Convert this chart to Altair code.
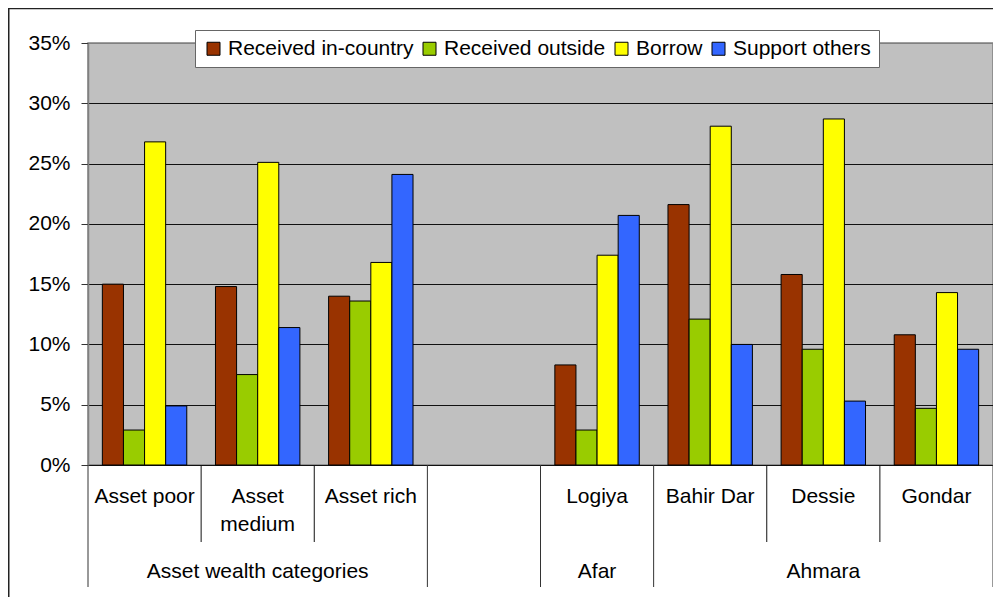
import altair as alt
import pandas as pd

categories = ["Asset poor", "Asset medium", "Asset rich", " ", "Logiya", "Bahir Dar", "Dessie", "Gondar"]
category_labels = ["Asset poor", "Asset\nmedium", "Asset rich", "", "Logiya", "Bahir Dar", "Dessie", "Gondar"]
series = ["Received in-country", "Received outside", "Borrow", "Support others"]
colors = ["#993300", "#99CC00", "#FFFF00", "#3366FF"]

received_in_country = [15.0, 14.8, 14.0, None, 8.3, 21.6, 15.8, 10.8]
received_outside = [2.9, 7.5, 13.6, None, 2.9, 12.1, 9.6, 4.7]
borrow = [26.8, 25.1, 16.8, None, 17.4, 28.1, 28.7, 14.3]
support_others = [4.9, 11.4, 24.1, None, 20.7, 10.0, 5.3, 9.6]

groups = ["Asset wealth categories", "Afar", "Ahmara"]
group_centre_category = ["Asset medium", "Logiya", "Dessie"]

long_separators = ["Asset poor", " ", "Logiya", "Bahir Dar"]
short_separators = ["Asset medium", "Asset rich", "Dessie", "Gondar"]
end_separator = ["Gondar"]

y_ticks = [0, 5, 10, 15, 20, 25, 30, 35]

FONT = "Liberation Sans"
FS = 21
W, H = 905, 422

rows = []
for name, vals in zip(series, [received_in_country, received_outside, borrow, support_others]):
    for cat, v in zip(categories, vals):
        if v is not None:
            rows.append({"category": cat, "series": name, "value": v})
bars_df = pd.DataFrame(rows)

labels_df = pd.DataFrame({"category": categories, "label": category_labels})
groups_df = pd.DataFrame({"category": group_centre_category, "label": groups})

x_scale = alt.Scale(domain=categories, paddingInner=0, paddingOuter=0)

bars = alt.Chart(bars_df).mark_bar(stroke="black", strokeWidth=1).encode(
    x=alt.X("category:N", scale=x_scale, sort=categories,
            axis=alt.Axis(labels=False, ticks=False, title=None, domain=True,
                          domainColor="#111111", domainWidth=1.2, grid=False)),
    xOffset=alt.XOffset("series:N", sort=series,
                        scale=alt.Scale(domain=series, paddingInner=0, paddingOuter=0.68)),
    y=alt.Y("value:Q", scale=alt.Scale(domain=[0, 35], nice=False, zero=True),
            axis=alt.Axis(values=y_ticks, labelExpr="datum.value + '%'", title=None,
                          grid=True,
                          gridColor=alt.condition("datum.value == 35", alt.value("#808080"), alt.value("#111111")),
                          gridWidth=1,
                          tickColor="#333333", tickSize=7, labelPadding=11,
                          domainColor="#808080", domainWidth=1.5,
                          labelFont=FONT, labelFontSize=FS, labelColor="black")),
    color=alt.Color("series:N", sort=series,
                    scale=alt.Scale(domain=series, range=colors),
                    legend=alt.Legend(title=None, orient="none", legendX=107, legendY=-13,
                                      direction="horizontal", fillColor="white",
                                      strokeColor="#666666", padding=8,
                                      symbolType="square", symbolSize=169,
                                      symbolStrokeColor="black", symbolStrokeWidth=1,
                                      symbolOpacity=1,
                                      labelFont=FONT, labelFontSize=FS, labelColor="black",
                                      labelOffset=4, columnPadding=5, labelLimit=400)),
)

frame_df = pd.DataFrame({"k": [0]})
frame = alt.Chart(frame_df).mark_rect(filled=False, stroke="#222222", strokeWidth=1.5).encode(
    x=alt.value(-79.25), y=alt.value(-34.5), x2=alt.value(930), y2=alt.value(600)
)

sep_long = alt.Chart(pd.DataFrame({"category": long_separators})).mark_rule(
    color="#333333", strokeWidth=1).encode(
    x=alt.X("category:N", scale=x_scale, bandPosition=0),
    y=alt.value(H), y2=alt.value(H + 122))
sep_short = alt.Chart(pd.DataFrame({"category": short_separators})).mark_rule(
    color="#111111", strokeWidth=1).encode(
    x=alt.X("category:N", scale=x_scale, bandPosition=0),
    y=alt.value(H), y2=alt.value(H + 77))
sep_end = alt.Chart(pd.DataFrame({"category": end_separator})).mark_rule(
    color="#333333", strokeWidth=1).encode(
    x=alt.X("category:N", scale=x_scale, bandPosition=1),
    y=alt.value(H), y2=alt.value(H + 122))

cat_text = alt.Chart(labels_df).mark_text(
    font=FONT, fontSize=FS, color="black", baseline="alphabetic", align="center",
    lineBreak="\n", lineHeight=28).encode(
    x=alt.X("category:N", scale=x_scale),
    y=alt.value(H + 38),
    text="label:N")

group_text = alt.Chart(groups_df).mark_text(
    font=FONT, fontSize=FS, color="black", baseline="alphabetic", align="center").encode(
    x=alt.X("category:N", scale=x_scale),
    y=alt.value(H + 113),
    text="label:N")

chart = alt.layer(frame, bars, sep_long, sep_short, sep_end, cat_text, group_text).properties(
    width=W, height=H,
    padding={"left": 80, "top": 35, "right": 0, "bottom": 132},
    autosize=alt.AutoSizeParams(type="none"),
    background="white",
).configure_view(
    fill="#C0C0C0", stroke="#808080", strokeWidth=1.5
)

chart.save("out.html", embed_options={"renderer": "svg", "actions": False})
